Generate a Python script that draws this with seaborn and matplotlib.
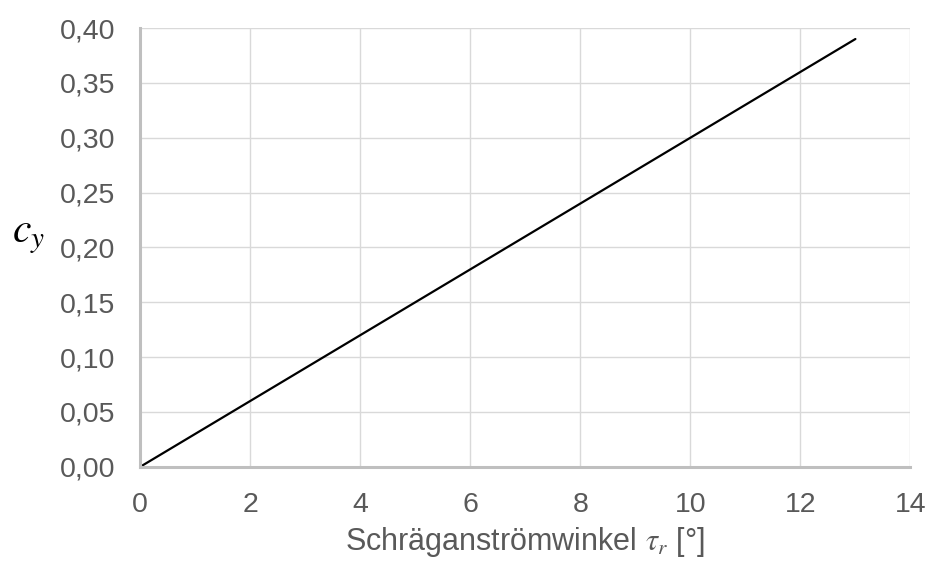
import matplotlib
matplotlib.use("Agg")
import matplotlib.pyplot as plt
import pandas as pd
import seaborn as sns

# c_y over the yaw angle
winkel = [0, 1, 2, 3, 4, 5, 6, 7, 8, 9, 10, 11, 12, 13]
cy = [0.00, 0.03, 0.06, 0.09, 0.12, 0.15, 0.18, 0.21, 0.24, 0.27, 0.30, 0.33, 0.36, 0.39]
x_ticks = [0, 2, 4, 6, 8, 10, 12, 14]
y_ticks = [0.00, 0.05, 0.10, 0.15, 0.20, 0.25, 0.30, 0.35, 0.40]

df = pd.DataFrame({'winkel': winkel, 'cy': cy})

sns.set_style('white')
plt.rcParams['font.family'] = ['Liberation Sans', 'DejaVu Sans']
plt.rcParams['mathtext.fontset'] = 'stix'

grau = '#595959'
fig, ax = plt.subplots(figsize=(9.29, 5.61), dpi=100)
fig.subplots_adjust(left=0.151, right=0.98, top=0.95, bottom=0.168)

sns.lineplot(data=df, x='winkel', y='cy', color='black', linewidth=1.6, ax=ax)

ax.set_xlim(0, 14)
ax.set_ylim(0, 0.40)
ax.set_xticks(x_ticks)
ax.set_yticks(y_ticks)
ax.set_xticklabels([str(t) for t in x_ticks])
ax.set_yticklabels([f'{t:.2f}'.replace('.', ',') for t in y_ticks])
ax.grid(True, color='#d9d9d9', linewidth=1.0)
ax.set_axisbelow(True)

for s in ['top', 'right']:
    ax.spines[s].set_visible(False)
for s in ['left', 'bottom']:
    ax.spines[s].set_color('#bfbfbf')
    ax.spines[s].set_linewidth(2.2)
ax.tick_params(axis='y', direction='inout', length=12, width=2, color='#bfbfbf',
               labelsize=20.5, labelcolor=grau, pad=12)
ax.tick_params(axis='x', direction='out', length=6.5, width=2, color='#bfbfbf',
               labelsize=20.5, labelcolor=grau, pad=12)

ax.set_xlabel(r'Schräganströmwinkel $\tau_r$ [°]', fontsize=22, color=grau, labelpad=5)
ax.set_ylabel(r'$c_y$', fontsize=30, color='black', rotation=0)
ax.yaxis.set_label_coords(-0.145, 0.48)

fig.savefig('out.png', dpi=100)
